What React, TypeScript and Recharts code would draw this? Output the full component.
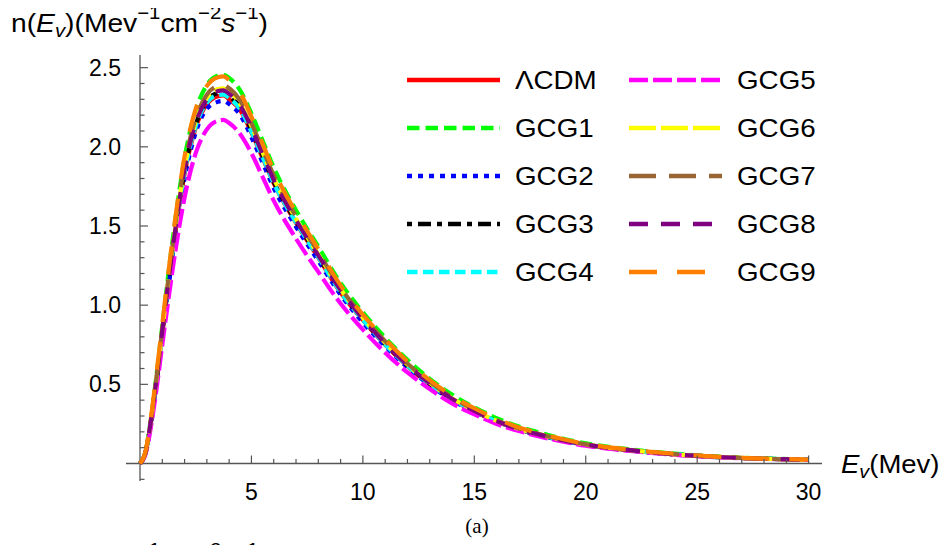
import { LineChart, Line, XAxis, YAxis, ReferenceLine, Legend } from "recharts";

const FONT = "'Liberation Sans', Arial, Helvetica, sans-serif";
const SERIF = "'Liberation Serif', 'Times New Roman', serif";
const axisColor = "#555555";

// neutrino energy (Mev)
const energy = [
  0, 0.25, 0.5, 0.75, 1, 1.25, 1.5, 2, 2.5, 3, 3.5, 3.75, 4, 4.5, 5, 5.5, 6,
  7, 8, 9, 10, 11, 12, 13, 14, 15, 16, 17, 18, 19, 20, 22, 24, 26, 28, 30,
];

const lcdm = [
  0, 0.07, 0.27, 0.53, 0.82, 1.1, 1.37, 1.83, 2.12, 2.27, 2.32, 2.325, 2.3,
  2.23, 2.09, 1.93, 1.77, 1.52, 1.3, 1.08, 0.905, 0.75, 0.615, 0.5, 0.405,
  0.33, 0.265, 0.215, 0.178, 0.145, 0.118, 0.083, 0.058, 0.04, 0.03, 0.024,
];
const gcg1 = [
  0, 0.075, 0.29, 0.57, 0.87, 1.17, 1.45, 1.93, 2.23, 2.39, 2.45, 2.455, 2.435,
  2.355, 2.21, 2.04, 1.87, 1.6, 1.37, 1.14, 0.955, 0.795, 0.655, 0.535, 0.435,
  0.355, 0.287, 0.233, 0.192, 0.156, 0.127, 0.089, 0.062, 0.043, 0.032, 0.025,
];
const gcg2 = [
  0, 0.068, 0.265, 0.52, 0.8, 1.08, 1.35, 1.8, 2.09, 2.24, 2.285, 2.29, 2.27,
  2.2, 2.06, 1.9, 1.74, 1.495, 1.28, 1.065, 0.89, 0.74, 0.607, 0.495, 0.4,
  0.326, 0.262, 0.213, 0.176, 0.143, 0.117, 0.082, 0.057, 0.04, 0.03, 0.024,
];
const gcg3 = [
  0, 0.071, 0.275, 0.54, 0.83, 1.11, 1.385, 1.85, 2.14, 2.29, 2.34, 2.344,
  2.32, 2.25, 2.105, 1.945, 1.78, 1.53, 1.31, 1.088, 0.91, 0.755, 0.619, 0.503,
  0.407, 0.331, 0.266, 0.216, 0.178, 0.145, 0.118, 0.083, 0.058, 0.04, 0.03,
  0.024,
];
const gcg4 = [
  0, 0.07, 0.272, 0.535, 0.825, 1.105, 1.375, 1.84, 2.13, 2.28, 2.327, 2.33,
  2.308, 2.237, 2.095, 1.935, 1.772, 1.523, 1.303, 1.083, 0.907, 0.752, 0.617,
  0.502, 0.406, 0.331, 0.266, 0.216, 0.178, 0.145, 0.118, 0.083, 0.058, 0.04,
  0.03, 0.024,
];
const gcg5 = [
  0, 0.06, 0.24, 0.48, 0.75, 1.01, 1.26, 1.68, 1.96, 2.11, 2.165, 2.17, 2.15,
  2.08, 1.96, 1.81, 1.66, 1.42, 1.21, 1.01, 0.845, 0.7, 0.575, 0.47, 0.38,
  0.31, 0.25, 0.205, 0.168, 0.138, 0.112, 0.079, 0.055, 0.039, 0.029, 0.023,
];
const gcg6 = [
  0, 0.072, 0.28, 0.55, 0.84, 1.13, 1.4, 1.87, 2.16, 2.31, 2.365, 2.37, 2.35,
  2.27, 2.13, 1.965, 1.8, 1.545, 1.32, 1.1, 0.92, 0.763, 0.625, 0.51, 0.412,
  0.335, 0.27, 0.219, 0.181, 0.147, 0.12, 0.084, 0.058, 0.041, 0.03, 0.024,
];
const gcg7 = [
  0, 0.073, 0.285, 0.555, 0.85, 1.14, 1.42, 1.89, 2.18, 2.33, 2.385, 2.39,
  2.37, 2.29, 2.15, 1.985, 1.82, 1.56, 1.335, 1.11, 0.93, 0.772, 0.632, 0.515,
  0.417, 0.339, 0.273, 0.221, 0.183, 0.149, 0.121, 0.085, 0.059, 0.041, 0.03,
  0.024,
];
const gcg8 = [
  0, 0.072, 0.28, 0.545, 0.835, 1.12, 1.39, 1.86, 2.15, 2.3, 2.352, 2.357,
  2.335, 2.26, 2.12, 1.955, 1.79, 1.537, 1.315, 1.095, 0.915, 0.758, 0.622,
  0.506, 0.409, 0.333, 0.268, 0.217, 0.179, 0.146, 0.119, 0.084, 0.058, 0.041,
  0.03, 0.024,
];
const gcg9 = [
  0, 0.078, 0.3, 0.58, 0.88, 1.18, 1.46, 1.94, 2.24, 2.385, 2.44, 2.445, 2.42,
  2.34, 2.19, 2.02, 1.85, 1.585, 1.355, 1.125, 0.94, 0.785, 0.645, 0.527,
  0.428, 0.349, 0.282, 0.228, 0.188, 0.153, 0.124, 0.087, 0.061, 0.042, 0.031,
  0.025,
];

// ticks: minor every 1 Mev / 0.1, labelled ones listed separately
const xTicks = Array.from({ length: 30 }, (_, i) => i + 1);
const xMajorTicks = [5, 10, 15, 20, 25, 30];
const xTickLabels = ["5", "10", "15", "20", "25", "30"];
const yTicks = Array.from({ length: 27 }, (_, i) => (i - 1) / 10).filter((v) => v !== 0);
const yMajorTicks = [0.5, 1, 1.5, 2, 2.5];
const yTickLabels = ["0.5", "1.0", "1.5", "2.0", "2.5"];

const series = [
  { key: "lcdm", name: "\u039BCDM", color: "#FF0000", dash: undefined },
  { key: "gcg1", name: "GCG1", color: "#00FF00", dash: "12.5 6" },
  { key: "gcg2", name: "GCG2", color: "#0000FF", dash: "5 6" },
  { key: "gcg3", name: "GCG3", color: "#000000", dash: "5 6 13 6" },
  { key: "gcg4", name: "GCG4", color: "#00FFFF", dash: "10.5 5.5" },
  { key: "gcg5", name: "GCG5", color: "#FF00FF", dash: "19 5" },
  { key: "gcg6", name: "GCG6", color: "#FFFF00", dash: "27 5" },
  { key: "gcg7", name: "GCG7", color: "#996633", dash: "27 13" },
  { key: "gcg8", name: "GCG8", color: "#800080", dash: "19 13" },
  { key: "gcg9", name: "GCG9", color: "#FF8000", dash: "28 20" },
];

const values: Record<string, number[]> = {
  lcdm, gcg1, gcg2, gcg3, gcg4, gcg5, gcg6, gcg7, gcg8, gcg9,
};

const data = energy.map((E, i) => {
  const row: Record<string, number> = { E };
  series.forEach((s) => {
    row[s.key] = values[s.key][i];
  });
  return row;
});

function XTick(props: any) {
  const { x, y, payload } = props;
  const idx = xMajorTicks.indexOf(payload.value);
  return (
    <g>
      <line x1={x} x2={x} y1={y} y2={y - (idx >= 0 ? 8 : 4.5)} stroke={axisColor} strokeWidth={1.2} />
      {idx >= 0 && (
        <text x={x} y={y + 36} textAnchor="middle" fontSize={23} fontFamily={FONT} fill="#000">
          {xTickLabels[idx]}
        </text>
      )}
    </g>
  );
}

function YTick(props: any) {
  const { x, y, payload } = props;
  const idx = yMajorTicks.findIndex((t) => Math.abs(t - payload.value) < 1e-6);
  return (
    <g>
      <line x1={x} x2={x + (idx >= 0 ? 8 : 4.5)} y1={y} y2={y} stroke={axisColor} strokeWidth={1.2} />
      {idx >= 0 && (
        <text x={x - 19} y={y + 8} textAnchor="end" fontSize={23} fontFamily={FONT} fill="#000">
          {yTickLabels[idx]}
        </text>
      )}
    </g>
  );
}

// two columns of five, in the plot order
function LegendBox() {
  return (
    <div
      style={{
        display: "grid",
        gridTemplateRows: "repeat(5, 48px)",
        gridTemplateColumns: "222px 200px",
        gridAutoFlow: "column",
      }}
    >
      {series.map((s) => (
        <div key={s.key} style={{ display: "flex", alignItems: "center" }}>
          <svg width={93} height={48} style={{ marginRight: 15, flex: "none" }}>
            <line x1={0} x2={93} y1={24} y2={24} stroke={s.color} strokeWidth={4.5} strokeDasharray={s.dash} />
          </svg>
          <span
            style={{
              fontFamily: FONT,
              fontSize: 25,
              color: "#000",
              display: "inline-block",
              transform: "scaleX(1.11)",
              transformOrigin: "left center",
            }}
          >
            {s.name}
          </span>
        </div>
      ))}
    </div>
  );
}

function Title({ y }: { y: number }) {
  return (
    <text transform={`translate(3 ${y}) scale(1.13 1)`} x={0} y={0} fontSize={25} fontFamily={FONT} fill="#000">
      n(<tspan fontStyle="italic">E</tspan>
      <tspan fontStyle="italic" fontSize={18} dy={5}>v</tspan>
      <tspan dy={-5}>)(Mev</tspan>
      <tspan fontSize={18} dy={-13}>{"\u22121"}</tspan>
      <tspan dy={13}>cm</tspan>
      <tspan fontSize={18} dy={-13}>{"\u22122"}</tspan>
      <tspan fontStyle="italic" dy={13}>s</tspan>
      <tspan fontSize={18} dy={-13}>{"\u22121"}</tspan>
      <tspan dy={13}>)</tspan>
    </text>
  );
}

export default function App() {
  return (
    <div style={{ position: "relative", width: 940, height: 537, overflow: "hidden", background: "#fff" }}>
      <LineChart
        width={940}
        height={537}
        data={data}
        margin={{ top: 47, right: 126, left: 72, bottom: 41.5 }}
      >
        <XAxis
          dataKey="E"
          type="number"
          domain={[0, 30.6]}
          ticks={xTicks}
          interval={0}
          axisLine={false}
          tickLine={false}
          tickSize={0}
          tickMargin={0}
          tick={<XTick />}
          height={40}
        />
        <YAxis
          type="number"
          domain={[0, 2.58]}
          ticks={yTicks}
          interval={0}
          axisLine={false}
          tickLine={false}
          tickSize={0}
          tickMargin={0}
          tick={<YTick />}
          width={60}
        />
        <ReferenceLine
          segment={[{ x: -0.63, y: 0 }, { x: 30.6, y: 0 }]}
          stroke={axisColor}
          strokeWidth={1.3}
          ifOverflow="visible"
        />
        <ReferenceLine
          segment={[{ x: 0, y: -0.11 }, { x: 0, y: 2.58 }]}
          stroke={axisColor}
          strokeWidth={1.3}
          ifOverflow="visible"
        />
        {series.map((s) => (
          <Line
            key={s.key}
            dataKey={s.key}
            name={s.name}
            type="monotone"
            stroke={s.color}
            strokeWidth={4.2}
            strokeDasharray={s.dash}
            dot={false}
            activeDot={false}
            isAnimationActive={false}
          />
        ))}
        <Legend
          layout="vertical"
          align="center"
          verticalAlign="middle"
          content={<LegendBox />}
          wrapperStyle={{ position: "absolute", left: 399, top: 48, width: 440, height: 240 }}
        />
      </LineChart>
      <svg width={940} height={537} style={{ position: "absolute", left: 0, top: 0, pointerEvents: "none" }}>
        <Title y={23.7} />
        <text transform="translate(833 465) scale(1.1 1)" x={0} y={0} fontSize={25} fontFamily={FONT} fill="#000">
          <tspan fontStyle="italic">E</tspan>
          <tspan fontStyle="italic" fontSize={18} dy={5}>v</tspan>
          <tspan dy={-5}>(Mev)</tspan>
        </text>
        <text x={469} y={525} textAnchor="middle" fontSize={21} fontFamily={SERIF} fill="#000">
          (a)
        </text>
        <Title y={561} />
      </svg>
    </div>
  );
}
